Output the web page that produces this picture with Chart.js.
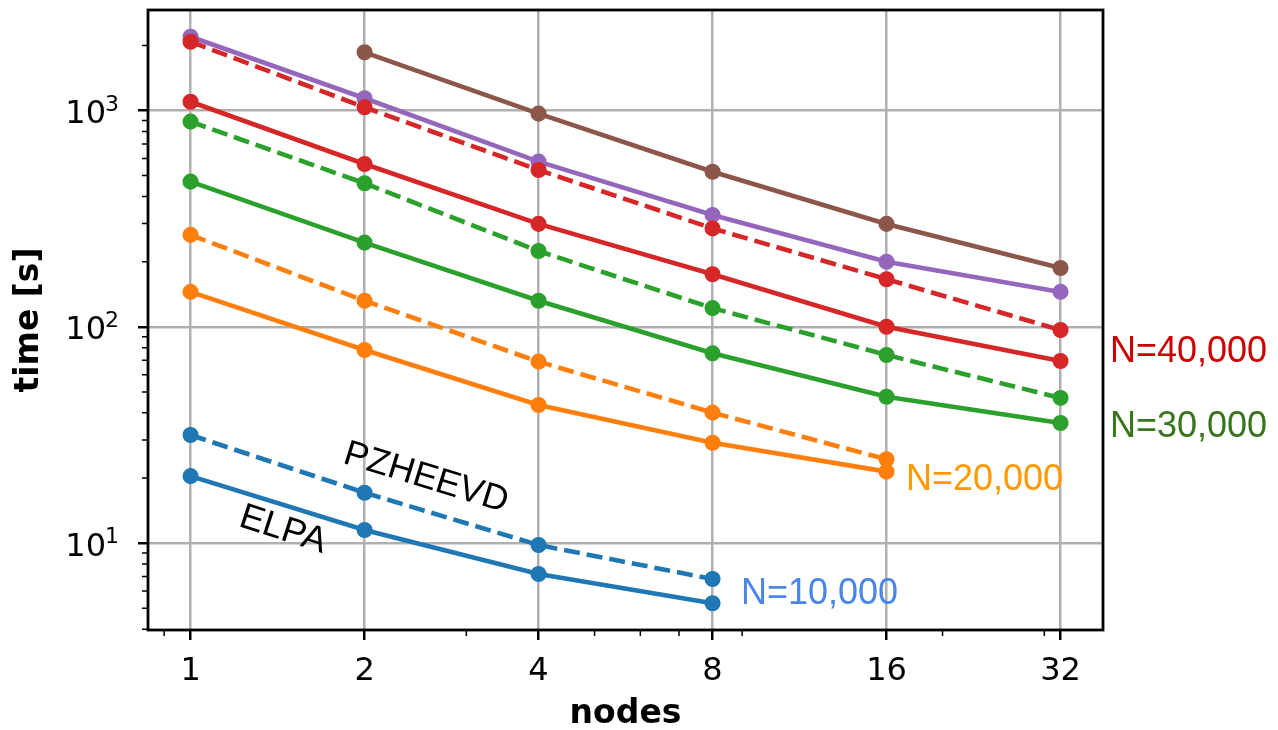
<!DOCTYPE html>
<html>
<head>
<meta charset="utf-8">
<script src="https://cdn.jsdelivr.net/npm/chart.js@4.4.1/dist/chart.umd.min.js"></script>
<style>
  html, body { margin: 0; padding: 0; background: #fff; }
  canvas { display: block; }
</style>
</head>
<body>
<canvas id="chart" width="1278" height="730"></canvas>
<script>
// nodes on the x axis, time in seconds on the y axis
const nodes = [1, 2, 4, 8, 16, 32];

const elpa10k = [20.4, 11.5, 7.2, 5.27];
const pzheevd10k = [31.6, 17.1, 9.8, 6.82];
const elpa20k = [145, 78.1, 43.5, 29.1, 21.4];
const pzheevd20k = [266, 132, 69, 40.1, 24.4];
const elpa30k = [469, 245, 132, 75.4, 47.5, 35.9];
const pzheevd30k = [888, 461, 224, 122, 74.1, 46.9];
const elpa40k = [1098, 566, 299, 175, 100, 69.5];
const pzheevd40k = [2080, 1035, 531, 285, 166, 96.6];
const purpleSeries = [2193, 1139, 580, 329, 200, 145];
const brownSeries = [1858, 967, 521, 299, 187]; // starts at 2 nodes

const xTicks = [1, 2, 4, 8, 16, 32];
const yTicks = [10, 100, 1000];
const xMinor = [0.9, 3, 5, 6, 7, 9, 20, 30];
const yMinor = [4, 5, 6, 7, 8, 9, 20, 30, 40, 50, 60, 70, 80, 90,
                200, 300, 400, 500, 600, 700, 800, 900, 2000];

const BLUE = '#1f77b4', ORANGE = '#ff7f0e', GREEN = '#2ca02c',
      RED = '#d62728', PURPLE = '#9467bd', BROWN = '#8c564b';
const DASH = [16, 7];

const pts = (xs, ys) => ys.map((y, i) => ({ x: xs[i], y: y }));

const series = (values, color, dashed, xs) => ({
  data: pts(xs || nodes, values),
  borderColor: color,
  backgroundColor: color,
  borderWidth: 4.6,
  borderDash: dashed ? DASH : [],
  pointRadius: 7.3,
  pointBorderWidth: 1.5,
  pointBackgroundColor: color,
  pointBorderColor: color,
  tension: 0,
  fill: false,
});

// listed bottom -> top, reversed below because Chart.js paints index 0 last
const drawOrder = [
  series(purpleSeries, PURPLE, false),
  series(brownSeries, BROWN, false, nodes.slice(1)),
  series(elpa10k, BLUE, false),
  series(pzheevd10k, BLUE, true),
  series(elpa20k, ORANGE, false),
  series(pzheevd20k, ORANGE, true),
  series(elpa30k, GREEN, false),
  series(pzheevd30k, GREEN, true),
  series(elpa40k, RED, false),
  series(pzheevd40k, RED, true),
];

const extras = {
  id: 'extras',
  afterDraw(chart) {
    const { ctx, chartArea: a, scales } = chart;
    const xs = scales.x, ys = scales.y;
    ctx.save();

    // minor ticks
    ctx.strokeStyle = '#000';
    ctx.lineWidth = 1.5;
    ctx.beginPath();
    xMinor.forEach(v => {
      const px = xs.getPixelForValue(v);
      ctx.moveTo(px, a.bottom);
      ctx.lineTo(px, a.bottom + 6);
    });
    yMinor.forEach(v => {
      const py = ys.getPixelForValue(v);
      ctx.moveTo(a.left, py);
      ctx.lineTo(a.left - 6, py);
    });
    ctx.stroke();

    // frame
    ctx.lineWidth = 2.8;
    ctx.strokeRect(a.left, a.top, a.right - a.left, a.bottom - a.top);

    // y tick labels as 10 with a raised exponent
    ctx.fillStyle = '#000';
    ctx.textAlign = 'right';
    ctx.textBaseline = 'alphabetic';
    yTicks.forEach(v => {
      const py = ys.getPixelForValue(v);
      const exp = String(Math.round(Math.log10(v)));
      ctx.font = '22px "DejaVu Sans", sans-serif';
      ctx.fillText(exp, 119, py);
      const w = ctx.measureText(exp).width;
      ctx.font = '32px "DejaVu Sans", sans-serif';
      ctx.fillText('10', 119 - w + 1, py + 12.5);
    });

    // annotations
    ctx.font = '36px "Liberation Sans", Arial, sans-serif';
    ctx.textAlign = 'left';
    ctx.fillStyle = '#4a86e8';
    ctx.fillText('N=10,000', 741, 604);
    ctx.fillStyle = '#ff9900';
    ctx.fillText('N=20,000', 906, 490);
    ctx.fillStyle = '#38761d';
    ctx.fillText('N=30,000', 1110, 437);
    ctx.fillStyle = '#cc0000';
    ctx.fillText('N=40,000', 1110, 362);

    ctx.fillStyle = '#000';
    ctx.textAlign = 'center';
    ctx.textBaseline = 'middle';
    ctx.save();
    ctx.translate(426, 478);
    ctx.rotate(17 * Math.PI / 180);
    ctx.fillText('PZHEEVD', 0, 0);
    ctx.restore();
    ctx.save();
    ctx.translate(283, 530);
    ctx.rotate(18 * Math.PI / 180);
    ctx.fillText('ELPA', 0, 0);
    ctx.restore();

    ctx.restore();
  }
};

const tickFont = { family: '"DejaVu Sans", sans-serif', size: 32 };
const titleFont = { family: '"DejaVu Sans", sans-serif', size: 33, weight: 'bold', lineHeight: 1 };

new Chart(document.getElementById('chart'), {
  type: 'line',
  data: { datasets: drawOrder.slice().reverse() },
  options: {
    responsive: false,
    animation: false,
    layout: { autoPadding: false, padding: { left: 0, top: 10, right: 175, bottom: 0 } },
    plugins: { legend: { display: false }, tooltip: { enabled: false } },
    scales: {
      x: {
        type: 'logarithmic',
        bounds: 'data',
        min: 0.844,
        max: 37.9,
        afterBuildTicks: axis => { axis.ticks = xTicks.map(v => ({ value: v })); },
        afterFit: axis => { axis.height = 100; },
        ticks: {
          color: '#000',
          font: tickFont,
          padding: 12,
          maxRotation: 0,
          autoSkip: false,
          callback: v => String(v),
        },
        grid: { color: '#b0b0b0', lineWidth: 2.5, tickColor: '#000', tickWidth: 2.5, tickLength: 10 },
        border: { display: false },
        title: { display: true, text: 'nodes', color: '#000', font: titleFont, padding: { top: 0, bottom: -1 } },
      },
      y: {
        type: 'logarithmic',
        bounds: 'data',
        min: 3.965,
        max: 2915,
        afterBuildTicks: axis => { axis.ticks = yTicks.map(v => ({ value: v })); },
        afterFit: axis => { axis.width = 148; },
        ticks: { display: false },
        grid: { color: '#b0b0b0', lineWidth: 2.5, tickColor: '#000', tickWidth: 2.5, tickLength: 10 },
        border: { display: false },
        title: { display: true, text: 'time [s]', color: '#000', font: titleFont, padding: { top: 12.5, bottom: 0 } },
      },
    },
  },
  plugins: [extras],
});
</script>
</body>
</html>
